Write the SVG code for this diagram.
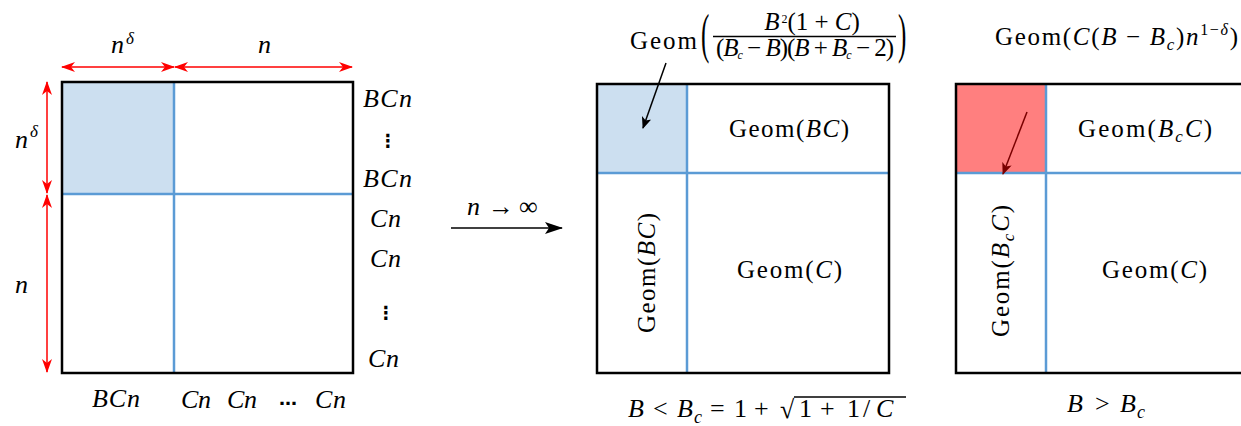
<svg xmlns="http://www.w3.org/2000/svg" width="1241" height="426" viewBox="0 0 1241 426">
<style>
.m{font-family:"Liberation Serif","DejaVu Serif",serif;font-size:26px;fill:#000}
.g{font-family:"Liberation Serif","DejaVu Serif",serif;font-size:25px;fill:#000}
.i{font-style:italic}
.sup{font-size:17px}
.frame{fill:none;stroke:#000;stroke-width:2.5}
.blue{stroke:#5B9BD5;stroke-width:2.5;fill:none}
.red{stroke:#FF0000;stroke-width:1.5;fill:none}
.dots{font-family:"DejaVu Sans",sans-serif;font-size:18px;font-weight:bold;fill:#000}
</style>
<defs>
<marker id="rh" markerUnits="userSpaceOnUse" markerWidth="14" markerHeight="12" refX="13" refY="5" orient="auto-start-reverse" viewBox="0 0 14 10">
<path d="M0,0 L14,5 L0,10 L4,5 z" fill="#FF0000"/>
</marker>
<marker id="bh" markerUnits="userSpaceOnUse" markerWidth="18" markerHeight="12" refX="17" refY="6" orient="auto" viewBox="0 0 18 12">
<path d="M0,0 L18,6 L0,12 L4,6 z" fill="#000"/>
</marker>
<marker id="ph" markerUnits="userSpaceOnUse" markerWidth="12" markerHeight="10" refX="11" refY="5" orient="auto" viewBox="0 0 12 10">
<path d="M0,0 L12,5 L0,10 L3,5 z" fill="#000"/>
</marker>
<marker id="dh" markerUnits="userSpaceOnUse" markerWidth="12" markerHeight="10" refX="11" refY="5" orient="auto" viewBox="0 0 12 10">
<path d="M0,0 L12,5 L0,10 L3,5 z" fill="#7A0000"/>
</marker>
</defs>

<!-- Left matrix -->
<g id="left-matrix">
<rect x="62" y="82" width="112" height="112" fill="#CCDFF0"/>
<line class="blue" x1="174" y1="82" x2="174" y2="373"/>
<line class="blue" x1="62" y1="194" x2="353" y2="194"/>
<rect class="frame" x="62" y="82" width="291" height="291"/>
</g>

<g id="left-labels">
<text class="m i" x="111" y="53">n</text><text class="m i sup" x="126" y="44">δ</text>
<text class="m i" x="258" y="53">n</text>
<text class="m i" x="15" y="148">n</text><text class="m i sup" x="30" y="137">δ</text>
<text class="m i" x="15" y="293">n</text>
<text class="m i" x="363" y="107" textLength="49" lengthAdjust="spacing">BCn</text>
<text class="dots" x="388" y="147" text-anchor="middle">⋮</text>
<text class="m i" x="363" y="187" textLength="49" lengthAdjust="spacing">BCn</text>
<text class="m i" x="370" y="227" textLength="31" lengthAdjust="spacing">Cn</text>
<text class="m i" x="370" y="267" textLength="31" lengthAdjust="spacing">Cn</text>
<text class="dots" x="386" y="319" text-anchor="middle">⋮</text>
<text class="m i" x="368" y="367" textLength="31" lengthAdjust="spacing">Cn</text>
<text class="m i" x="92" y="407" textLength="48" lengthAdjust="spacing">BCn</text>
<text class="m i" x="181" y="408" textLength="30" lengthAdjust="spacing">Cn</text>
<text class="m i" x="227" y="408" textLength="30" lengthAdjust="spacing">Cn</text>
<text class="dots" x="288" y="405" text-anchor="middle" font-weight="normal" font-size="16">…</text>
<text class="m i" x="315" y="408" textLength="31" lengthAdjust="spacing">Cn</text>
</g>

<!-- Middle matrix -->
<g id="middle-matrix">
<rect x="597" y="84" width="90" height="89" fill="#CCDFF0"/>
<line class="blue" x1="687" y1="84" x2="687" y2="373"/>
<line class="blue" x1="597" y1="173" x2="889" y2="173"/>
<rect class="frame" x="597" y="84" width="292" height="289"/>
<text class="g" x="729" y="137" textLength="120" lengthAdjust="spacing">Geom(<tspan class="i">BC</tspan>)</text>
<text class="g" x="737" y="278" textLength="105" lengthAdjust="spacing">Geom(<tspan class="i">C</tspan>)</text>
<text class="g" transform="translate(655,273) rotate(-90)" x="-60" y="0" textLength="120" lengthAdjust="spacing">Geom(<tspan class="i">BC</tspan>)</text>
</g>

<g id="middle-formula">
<text class="g" x="630" y="49" textLength="67" lengthAdjust="spacing">Geom</text>
<text class="g" transform="translate(701,52) scale(1,2.2)">(</text>
<text class="g" transform="translate(898,52) scale(1,2.2)">)</text>
<text class="g" x="812" y="30" font-size="19" text-anchor="middle"><tspan class="i">B</tspan><tspan font-size="12" dx="2" dy="-7">2</tspan><tspan dy="7">(1 + </tspan><tspan class="i">C</tspan>)</text>
<line x1="713" y1="36.5" x2="896" y2="36.5" stroke="#000" stroke-width="1.5"/>
<text class="g" x="716" y="56" font-size="18" textLength="178" lengthAdjust="spacing">(<tspan class="i">B</tspan><tspan class="i" font-size="12" dy="3">c</tspan><tspan dy="-3"> − </tspan><tspan class="i">B</tspan>)(<tspan class="i">B</tspan> + <tspan class="i">B</tspan><tspan class="i" font-size="12" dy="3">c</tspan><tspan dy="-3"> − 2)</tspan></text>
</g>

<g id="middle-caption">
<text class="m" y="417"><tspan class="i" x="628">B</tspan><tspan x="653">&lt;</tspan><tspan class="i" x="677">B</tspan><tspan class="i" font-size="18" x="694" dy="6">c</tspan><tspan x="710" dy="-6">=</tspan><tspan x="734">1</tspan><tspan x="754">+</tspan></text>
<text class="m" x="780" y="418">√</text>
<line x1="794" y1="397" x2="906" y2="397" stroke="#000" stroke-width="1.5"/>
<text class="m" y="417"><tspan x="799">1</tspan><tspan x="820">+</tspan><tspan x="847">1</tspan><tspan x="863">/</tspan><tspan class="i" x="876">C</tspan></text>
</g>

<!-- Right matrix -->
<g id="right-matrix">
<rect x="956" y="84" width="90" height="89" fill="#FF7F7F"/>
<line class="blue" x1="1046" y1="84" x2="1046" y2="373"/>
<line class="blue" x1="956" y1="173" x2="1250" y2="173"/>
<rect class="frame" x="956" y="84" width="300" height="289"/>
<text class="g" x="1078" y="137" textLength="134" lengthAdjust="spacing">Geom(<tspan class="i">B</tspan><tspan class="i" font-size="17" dy="5">c</tspan><tspan class="i" dy="-5">C</tspan>)</text>
<text class="g" x="1102" y="278" textLength="105" lengthAdjust="spacing">Geom(<tspan class="i">C</tspan>)</text>
<text class="g" transform="translate(1009,271) rotate(-90)" x="-66" y="0" textLength="132" lengthAdjust="spacing">Geom(<tspan class="i">B</tspan><tspan class="i" font-size="17" dy="5">c</tspan><tspan class="i" dy="-5">C</tspan>)</text>
</g>

<g id="right-formula">
<text class="g" x="995" y="45" textLength="243" lengthAdjust="spacing">Geom(<tspan class="i">C</tspan>(<tspan class="i">B</tspan> − <tspan class="i">B</tspan><tspan class="i" font-size="17" dy="5">c</tspan><tspan dy="-5">)</tspan><tspan class="i">n</tspan><tspan font-size="16" dy="-10">1−</tspan><tspan class="i" font-size="16">δ</tspan><tspan dy="10">)</tspan></text>
</g>

<g id="right-caption">
<text class="m" y="412"><tspan class="i" x="1067">B</tspan><tspan x="1095">&gt;</tspan><tspan class="i" x="1120">B</tspan><tspan class="i" font-size="18" x="1137" dy="6">c</tspan></text>
</g>

<g id="transition">
<text class="m" y="215"><tspan class="i" x="467">n</tspan><tspan x="488">→</tspan><tspan x="519">∞</tspan></text>
</g>

<!-- Connectors -->
<g id="connectors">
<line class="red" x1="62" y1="67" x2="174" y2="67" marker-start="url(#rh)" marker-end="url(#rh)"/>
<line class="red" x1="175" y1="67" x2="352" y2="67" marker-start="url(#rh)" marker-end="url(#rh)"/>
<line class="red" x1="47" y1="82" x2="47" y2="193" marker-start="url(#rh)" marker-end="url(#rh)"/>
<line class="red" x1="47" y1="195" x2="47" y2="372" marker-start="url(#rh)" marker-end="url(#rh)"/>
<line x1="451" y1="228" x2="562" y2="228" stroke="#000" stroke-width="1.5" marker-end="url(#bh)"/>
<line x1="666" y1="63" x2="643" y2="128" stroke="#000" stroke-width="1.5" marker-end="url(#ph)"/>
<line x1="1027" y1="112" x2="1003" y2="174" stroke="#7A0000" stroke-width="1.5" marker-end="url(#dh)"/>
</g>
</svg>
